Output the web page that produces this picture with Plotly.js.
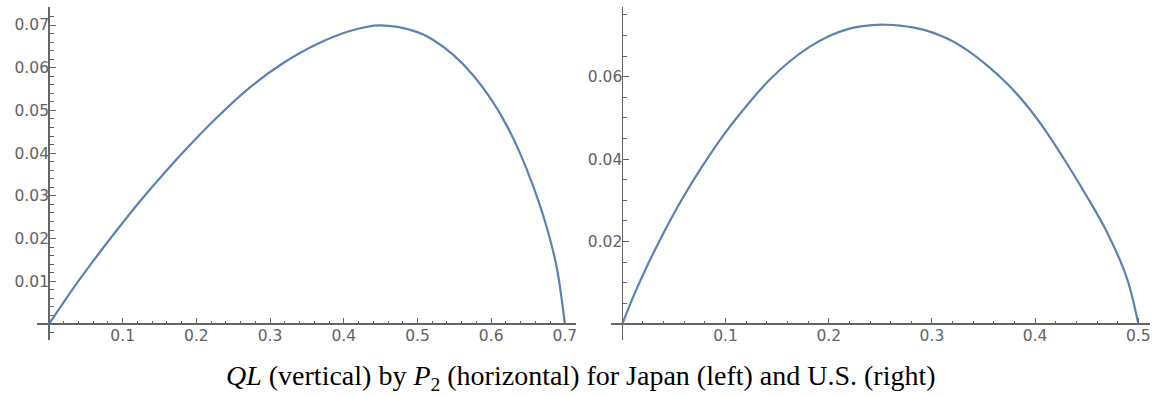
<!DOCTYPE html>
<html>
<head>
<meta charset="utf-8">
<script src="https://cdn.plot.ly/plotly-3.0.1.min.js"></script>
<style>html,body{margin:0;padding:0;background:#fff;}#chart{width:1153px;height:397px;}</style>
</head>
<body>
<div id="chart"></div>
<script>
// Japan (left): QL by P2
const japanP2 = [0, 0.0331, 0.0558, 0.1, 0.1238, 0.1692, 0.1845, 0.2275, 0.2727, 0.3179, 0.3632, 0.4084, 0.4491, 0.4989, 0.5214, 0.5486, 0.5757, 0.6007, 0.621, 0.6391, 0.6571, 0.6753, 0.6889, 0.7];
const japanQL = [0, 0.0084, 0.0138, 0.0237, 0.0288, 0.0378, 0.0407, 0.0483, 0.0554, 0.0611, 0.0655, 0.0686, 0.0699, 0.0684, 0.0665, 0.0630, 0.0582, 0.0524, 0.0465, 0.0400, 0.0322, 0.0227, 0.0133, 0];
// U.S. (right): QL by P2
const usP2 = [0, 0.0123, 0.0252, 0.0415, 0.0577, 0.0771, 0.1, 0.1223, 0.1418, 0.1612, 0.1806, 0.2, 0.2194, 0.2421, 0.2546, 0.2691, 0.2917, 0.3143, 0.3337, 0.3531, 0.3725, 0.3919, 0.4112, 0.4306, 0.45, 0.4694, 0.4888, 0.5];
const usQL = [0, 0.0076, 0.0147, 0.0228, 0.0302, 0.0381, 0.0465, 0.0535, 0.0590, 0.0635, 0.0671, 0.0698, 0.0716, 0.0725, 0.0726, 0.0724, 0.0714, 0.0693, 0.0665, 0.0628, 0.0584, 0.0530, 0.0465, 0.0390, 0.0310, 0.0224, 0.0112, 0];

const japanXTicks = [0.1, 0.2, 0.3, 0.4, 0.5, 0.6, 0.7];
const japanXLabels = ["0.1", "0.2", "0.3", "0.4", "0.5", "0.6", "0.7"];
const japanYTicks = [0.01, 0.02, 0.03, 0.04, 0.05, 0.06, 0.07];
const japanYLabels = ["0.01", "0.02", "0.03", "0.04", "0.05", "0.06", "0.07"];
const usXTicks = [0.1, 0.2, 0.3, 0.4, 0.5];
const usXLabels = ["0.1", "0.2", "0.3", "0.4", "0.5"];
const usYTicks = [0.02, 0.04, 0.06];
const usYLabels = ["0.02", "0.04", "0.06"];

const captionText = "<i>QL</i> (vertical) by <i>P</i><sub>2</sub> (horizontal) for Japan (left) and U.S. (right)";

const W = 1153, H = 397;
const lineColor = '#5e81b5';
const axisColor = '#666666';
const tickFont = {family: 'DejaVu Sans', size: 15.5, color: '#626262'};

function xAxis(dom, range, tv, tt, ypos) {
  return {
    domain: dom, range: range, anchor: 'free', position: ypos,
    showgrid: false, showline: false, zeroline: true, zerolinecolor: axisColor, zerolinewidth: 1.3,
    tickmode: 'array', tickvals: tv, ticktext: tt, ticks: 'inside', ticklen: 6, tickwidth: 1, tickcolor: axisColor,
    minor: {tickmode: 'linear', tick0: 0, dtick: 0.02, ticks: 'inside', ticklen: 3.5, tickwidth: 1, tickcolor: axisColor},
    tickfont: tickFont, fixedrange: true
  };
}
function yAxis(dom, range, tv, tt, xpos, mdt) {
  return {
    domain: dom, range: range, anchor: 'free', position: xpos,
    showgrid: false, showline: false, zeroline: true, zerolinecolor: axisColor, zerolinewidth: 1.3,
    tickmode: 'array', tickvals: tv, ticktext: tt, ticks: 'inside', ticklen: 6, tickwidth: 1, tickcolor: axisColor,
    minor: {tickmode: 'linear', tick0: 0, dtick: mdt, ticks: 'inside', ticklen: 3.5, tickwidth: 1, tickcolor: axisColor},
    tickfont: tickFont, fixedrange: true
  };
}

const yDom = [1 - 340 / H, 1 - 7 / H];
const xAxisPos = 1 - 324 / H;

const data = [
  {x: japanP2, y: japanQL, type: 'scatter', mode: 'lines', line: {color: lineColor, width: 2.2, shape: 'spline', smoothing: 1}, xaxis: 'x', yaxis: 'y', hoverinfo: 'skip'},
  {x: usP2, y: usQL, type: 'scatter', mode: 'lines', line: {color: lineColor, width: 2.2, shape: 'spline', smoothing: 1}, xaxis: 'x2', yaxis: 'y2', hoverinfo: 'skip'}
];

const layout = {
  width: W, height: H,
  margin: {l: 0, r: 0, t: 0, b: 0, pad: 0},
  paper_bgcolor: '#fff', plot_bgcolor: '#fff',
  showlegend: false,
  xaxis: xAxis([37 / W, 576 / W], [-0.01628, 0.7151], japanXTicks, japanXLabels, xAxisPos),
  yaxis: yAxis(yDom, [-0.00375, 0.07422], japanYTicks, japanYLabels, 49 / W, 0.002),
  xaxis2: xAxis([611 / W, 1150 / W], [-0.01095, 0.5113], usXTicks, usXLabels, xAxisPos),
  yaxis2: yAxis(yDom, [-0.00388, 0.0769], usYTicks, usYLabels, 622.3 / W, 0.005),
  annotations: [{
    text: captionText, xref: 'paper', yref: 'paper', x: 581 / W, y: 1 - 377 / H,
    xanchor: 'center', yanchor: 'middle', showarrow: false,
    font: {family: 'Liberation Serif, Times New Roman, serif', size: 28, color: '#000'}
  }]
};

Plotly.newPlot('chart', data, layout, {displayModeBar: false, staticPlot: true});
</script>
</body>
</html>
